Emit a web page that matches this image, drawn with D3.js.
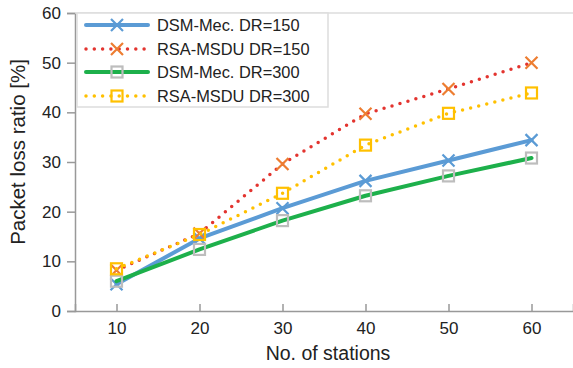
<!DOCTYPE html>
<html>
<head>
<meta charset="utf-8">
<script src="https://cdn.jsdelivr.net/npm/d3@7"></script>
<style>
  body { margin: 0; background: #fff; }
  svg { display: block; font-family: 'Liberation Sans', Arial, sans-serif; }
</style>
</head>
<body>
<div id="chart"></div>
<script>
// --------------------------------------------------
// data

let stations = [10, 20, 30, 40, 50, 60];

let dsmMec150 = [5.4, 14.6, 20.7, 26.2, 30.3, 34.4];
let rsaMsdu150 = [8.2, 15.6, 29.6, 39.7, 44.7, 50.0];
let dsmMec300 = [6.0, 12.4, 18.2, 23.2, 27.2, 30.8];
let rsaMsdu300 = [8.5, 15.4, 23.7, 33.4, 39.8, 43.9];

let xTicks = [10, 20, 30, 40, 50, 60];
let yTicks = [0, 10, 20, 30, 40, 50, 60];

let seriesNames = ['DSM-Mec. DR=150', 'RSA-MSDU DR=150', 'DSM-Mec. DR=300', 'RSA-MSDU DR=300'];

// --------------------------------------------------

let series = [
  { name: seriesNames[0], values: dsmMec150, line: '#5b9bd5', marker: '#5b9bd5', shape: 'x', dotted: false },
  { name: seriesNames[1], values: rsaMsdu150, line: '#e3342f', marker: '#ed7d31', shape: 'x', dotted: true },
  { name: seriesNames[2], values: dsmMec300, line: '#1db04b', marker: '#bdbdbd', shape: 'square', dotted: false },
  { name: seriesNames[3], values: rsaMsdu300, line: '#ffc000', marker: '#ffc000', shape: 'square', dotted: true }
];

let width = 573, height = 368;
let margin = { left: 75, right: 0, top: 13, bottom: 57 };

let svg = d3.select('#chart')
  .append('svg')
  .attr('width', width)
  .attr('height', height);

let x = d3.scaleLinear()
  .domain([5, 65])
  .range([margin.left, width - margin.right]);

let y = d3.scaleLinear()
  .domain([0, 60])
  .range([height - margin.bottom, margin.top]);

// axes

let axisColor = '#999';

let xAxis = svg.append('g')
  .attr('transform', 'translate(0,' + y(0) + ')')
  .call(d3.axisBottom(x).tickValues(xTicks).tickSize(-7).tickPadding(11).tickFormat(d3.format('d')));

let yAxis = svg.append('g')
  .attr('transform', 'translate(' + x(5) + ',0)')
  .call(d3.axisLeft(y).tickValues(yTicks).tickSize(8).tickPadding(6).tickFormat(d3.format('d')));

[xAxis, yAxis].forEach(function (axis)
{
  axis.select('.domain').attr('stroke', axisColor).attr('stroke-width', 1.5);
  axis.selectAll('.tick line').attr('stroke', axisColor).attr('stroke-width', 1.5);
  axis.selectAll('.tick text')
    .attr('fill', '#222')
    .style('font-size', '17px')
    .style('font-family', "'Liberation Sans', Arial, sans-serif");
});

// top frame line
svg.append('line')
  .attr('x1', x(5)).attr('x2', x(65))
  .attr('y1', y(60)).attr('y2', y(60))
  .attr('stroke', '#ddd')
  .attr('stroke-width', 1.5);

svg.append('text')
  .attr('x', 328)
  .attr('y', 360)
  .attr('text-anchor', 'middle')
  .attr('fill', '#222')
  .style('font-size', '19.5px')
  .text('No. of stations');

svg.append('text')
  .attr('transform', 'translate(25,152) rotate(-90)')
  .attr('text-anchor', 'middle')
  .attr('fill', '#222')
  .style('font-size', '20.5px')
  .text('Packet loss ratio [%]');

// --------------------------------------------------
// markers

function drawMarker(g, shape, color, cx, cy)
{
  if (shape === 'x')
  {
    let s = 6;
    g.append('path')
      .attr('d', 'M' + (cx - s) + ',' + (cy - s) + 'L' + (cx + s) + ',' + (cy + s) +
                 'M' + (cx - s) + ',' + (cy + s) + 'L' + (cx + s) + ',' + (cy - s))
      .attr('stroke', color)
      .attr('stroke-width', 2.2)
      .attr('fill', 'none');
  }
  else
  {
    let s = 5.5;
    g.append('rect')
      .attr('x', cx - s).attr('y', cy - s)
      .attr('width', 2 * s).attr('height', 2 * s)
      .attr('stroke', color)
      .attr('stroke-width', 2.2)
      .attr('fill', 'none');
  }
}

function styleLine(sel, s)
{
  sel.attr('fill', 'none')
    .attr('stroke', s.line)
    .attr('stroke-linecap', 'round')
    .attr('stroke-linejoin', 'round');
  if (s.dotted)
  {
    sel.attr('stroke-width', 3.5).attr('stroke-dasharray', '0,8.3');
  }
  else
  {
    sel.attr('stroke-width', 4);
  }
  return sel;
}

let line = d3.line()
  .x(function (d, i) { return x(stations[i]); })
  .y(function (d) { return y(d); });

series.forEach(function (s)
{
  let g = svg.append('g');
  styleLine(g.append('path').attr('d', line(s.values)), s);
  s.values.forEach(function (v, i)
  {
    drawMarker(g, s.shape, s.marker, x(stations[i]), y(v));
  });
});

// --------------------------------------------------
// legend

let legend = svg.append('g');

legend.append('rect')
  .attr('x', 77).attr('y', 13)
  .attr('width', 251).attr('height', 94)
  .attr('fill', '#fff')
  .attr('stroke', '#ddd')
  .attr('stroke-width', 1.5);

let rowY = [25, 49, 72, 96];

series.forEach(function (s, i)
{
  let ly = rowY[i];
  let g = legend.append('g');
  styleLine(g.append('line')
    .attr('x1', 86).attr('x2', 148)
    .attr('y1', ly).attr('y2', ly), s);
  drawMarker(g, s.shape, s.marker, 117, ly);
  g.append('text')
    .attr('x', 157)
    .attr('y', ly + 6)
    .attr('fill', '#222')
    .style('font-size', '16.4px')
    .text(s.name);
});
</script>
</body>
</html>
